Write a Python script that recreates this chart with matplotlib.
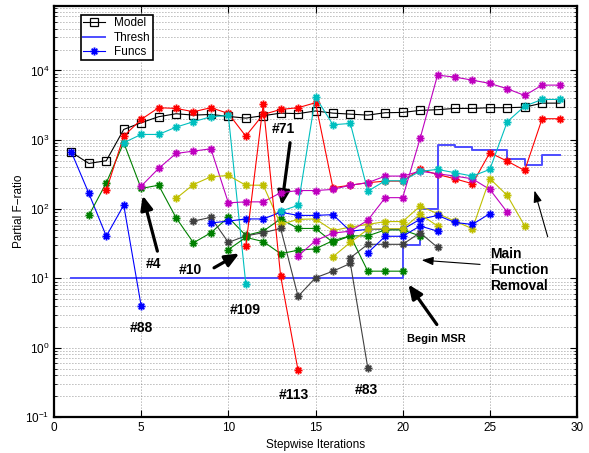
import numpy as np
import matplotlib
matplotlib.use("Agg")
import matplotlib.pyplot as plt
from matplotlib.path import Path

plt.rcParams['font.family'] = ['Liberation Sans', 'DejaVu Sans']

# ---------------- data ----------------
iters = list(range(1, 30))
model = [660, 455, 498, 1408, 1760, 2148, 2372, 2265, 2317, 2170, 2050, 2220, 2420, 2380,
         2600, 2421, 2340, 2265, 2454, 2478, 2650, 2712, 2831, 2831, 2897, 2897, 2952, 3373, 3373]
thresh = [10] * 19 + [30, 100, 836, 790, 708, 708, 532, 430, 600, 600]

# each function: first iteration + partial F-ratio values
f01_start, f01 = 1, [660, 168, 40.6, 114, 4.0]
f02_start, f02 = 2, [81, 239, 906, 198, 221, 75, 32.6, 45.5, 76, 41.6, 48, 72, 52.5, 52.5,
                     33, 41, 12.7, 12.7, 12.7]
f03_start, f03 = 3, [187, 1127, 1963, 2897, 2831, 2535, 2897, 2398, 1127, 2317, 2736, 2897,
                     3420, 203, 221, 240, 253, 253, 373, 316, 273, 232, 649, 491, 360, 2010, 2010]
f04_start, f04 = 4, [906, 1192, 1192, 1520, 1820, 2148, 2242, 8.4]
f05_start, f05 = 5, [214, 385, 634, 685, 741, 123, 127, 127, 172, 185, 185, 192, 221, 240,
                     299, 299, 352, 323, 299, 273, 192, 90]
f06_start, f06 = 7, [142, 226, 292, 305, 221, 221, 60, 71, 72, 49, 55, 60, 66, 66, 110, 86,
                     67, 52, 275, 157, 57]
f07_start, f07 = 8, [67, 76, 33, 41, 45.5, 52.5, 5.5, 10.2, 12.7, 16.4, 0.51]
f08_start, f08 = 9, [63, 67, 72, 72, 90, 81, 81, 83, 48, 51, 51, 51, 71, 81, 64, 60, 86]
f09_start, f09 = 10, [26, 39, 34, 22.7, 25.5, 26.7, 35, 41, 41, 50, 50, 41]
f10_start, f10 = 11, [29, 3230, 10.8, 0.47]
f11_start, f11 = 13, [93, 113, 4150, 1646, 1718, 181, 256, 256, 350, 373, 334, 299, 373,
                      1820, 3055, 3814, 3814]
f12_start, f12 = 14, [21, 35, 45, 48, 69, 146, 146, 1045, 8550, 8000, 7240, 6490, 5440,
                      4350, 6140, 6140]
f13_start, f13 = 16, [20.5, 33, 51, 52, 52, 84, 57]
f14_start, f14 = 17, [19.8, 31, 31, 31, 45.5, 28]
f15_start, f15 = 18, [23.4, 40.5, 40.5, 57, 48]

funcs = [(f01_start, f01), (f02_start, f02), (f03_start, f03), (f04_start, f04),
         (f05_start, f05), (f06_start, f06), (f07_start, f07), (f08_start, f08),
         (f09_start, f09), (f10_start, f10), (f11_start, f11), (f12_start, f12),
         (f13_start, f13), (f14_start, f14), (f15_start, f15)]

colors = [(0, 0, 1), (0, 0.5, 0), (1, 0, 0), (0, 0.75, 0.75), (0.75, 0, 0.75),
          (0.75, 0.75, 0), (0.25, 0.25, 0.25)]

# ---------------- figure ----------------
fig = plt.figure(figsize=(5.89, 4.53), dpi=100)
ax = fig.add_axes([54 / 589, 36 / 453, 523 / 589, 411 / 453])

# MATLAB-like asterisk marker
ast = Path([(-1, 0), (1, 0), (0, -1), (0, 1), (-0.707, -0.707), (0.707, 0.707),
            (-0.707, 0.707), (0.707, -0.707)],
           [Path.MOVETO, Path.LINETO] * 4)

ax.plot(iters, model, '-', color='k', lw=0.8, marker='s', markersize=5.5,
        markerfacecolor='none', markeredgecolor='k', markeredgewidth=0.9, label='Model', zorder=3)
ax.step(iters, thresh, where='post', color=(0.3, 0.3, 1.0), lw=1.4, label='Thresh', zorder=3)

for k, (s, vals) in enumerate(funcs):
    xs = list(range(s, s + len(vals)))
    ax.plot(xs, vals, '-', color=colors[k % 7], lw=0.8, marker=ast, markersize=5.8,
            markeredgewidth=1.3, markerfacecolor='none',
            label='Funcs' if k == 0 else None, zorder=4)

ax.set_yscale('log')
ax.set_xlim(0, 30)
ax.set_ylim(0.1, 8.5e4)
ax.set_xticks([0, 5, 10, 15, 20, 25, 30])

gstyle = dict(linestyle=(0, (1, 2.6)), color='0.45', lw=0.6)
ax.grid(True, which='major', axis='both', **gstyle)
ax.grid(True, which='minor', axis='y', **gstyle)
ax.set_axisbelow(True)

ax.tick_params(which='both', direction='in', top=True, right=True, labelsize=8.5)
ax.tick_params(which='major', length=5, width=0.8)
ax.tick_params(which='minor', length=2.5, width=0.6)
ax.tick_params(axis='x', which='minor', bottom=False, top=False)
for sp in ax.spines.values():
    sp.set_linewidth(1.6)

ax.set_xlabel('Stepwise Iterations', fontsize=8.5, labelpad=4)
ax.set_ylabel('Partial F\u2212ratio', fontsize=8.5, labelpad=0)

leg = ax.legend(loc='upper left', bbox_to_anchor=(0.051, 0.978), borderaxespad=0,
                fontsize=8.5, handlelength=1.9, handletextpad=0.7, labelspacing=0.2,
                borderpad=0.2, fancybox=False, framealpha=1, edgecolor='k')
leg.get_frame().set_linewidth(1.2)

# ---------------- annotations ----------------
thick = dict(arrowstyle='-|>,head_length=0.7,head_width=0.3', lw=2.3, color='k',
             mutation_scale=12, shrinkA=0, shrinkB=0)
thin = dict(arrowstyle='-|>,head_length=0.7,head_width=0.25', lw=0.8, color='k',
            mutation_scale=10, shrinkA=0, shrinkB=0)
bold = dict(fontsize=10, fontweight='bold', ha='center', va='center')

ax.annotate('', xy=(5.09, 157), xytext=(5.93, 24.7), arrowprops=thick)
ax.text(5.70, 16.2, '#4', **bold)
ax.annotate('', xy=(10.63, 22.9), xytext=(9.18, 14.2), arrowprops=thick)
ax.text(7.84, 13.1, '#10', **bold)
ax.annotate('', xy=(13.06, 113), xytext=(13.54, 906), arrowprops=thick)
ax.text(13.16, 1409, '#71', **bold)
ax.annotate('', xy=(20.33, 8.17), xytext=(21.96, 2.16), arrowprops=thick)
ax.text(21.96, 1.34, 'Begin MSR', fontsize=8, fontweight='bold', ha='center', va='center')
ax.annotate('', xy=(21.09, 18.3), xytext=(24.44, 15.9), arrowprops=thin)
ax.text(25.01, 13.1, 'Main\nFunction\nRemoval', fontsize=10, fontweight='bold',
        ha='left', va='center', linespacing=1.2)
ax.annotate('', xy=(27.56, 185), xytext=(28.32, 39.8), arrowprops=thin)

ax.text(10.96, 3.48, '#109', **bold)
ax.text(5.03, 1.94, '#88', **bold)
ax.text(13.77, 0.211, '#113', **bold)
ax.text(17.9, 0.249, '#83', **bold)

fig.savefig('out.png', dpi=100)
